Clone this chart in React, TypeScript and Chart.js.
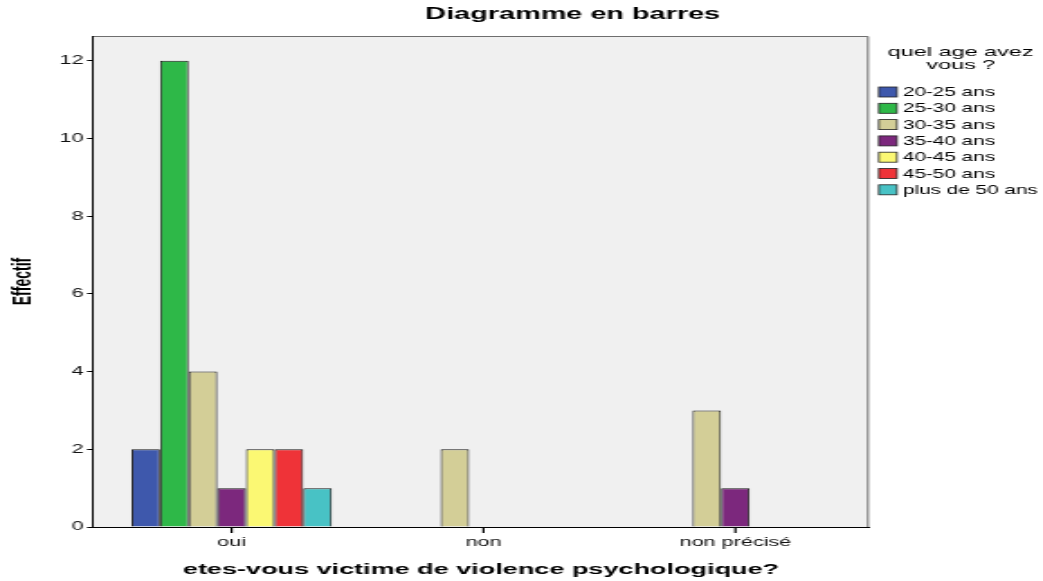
import React, { useEffect, useRef } from "react";
import { Chart, registerables } from "chart.js";

Chart.register(...registerables);

// ---- data ----
const categories = ["oui", "non", "non précisé"];
const ageGroups = ["20-25 ans", "25-30 ans", "30-35 ans", "35-40 ans", "40-45 ans", "45-50 ans", "plus de 50 ans"];
const age2025 = [2, 0, 0];
const age2530 = [12, 0, 0];
const age3035 = [4, 2, 3];
const age3540 = [1, 0, 1];
const age4045 = [2, 0, 0];
const age4550 = [2, 0, 0];
const age50plus = [1, 0, 0];
const yTickValues = [0, 2, 4, 6, 8, 10, 12];

const chartTitle = "Diagramme en barres";
const xTitle = "etes-vous victime de violence psychologique?";
const yTitle = "Effectif";
const legendTitle = ["quel age avez", "vous ?"];

// ---- style ----
const colors = ["#3E58AC", "#2EB848", "#D3CE97", "#7C287D", "#FBF873", "#EF3338", "#48C2C5"];
const W = 1043;
const H = 581;
const S = 1.8; // horizontal stretch of the original picture
const IW = Math.round(W / S);
const FONT = '"Liberation Sans", Arial, Helvetica, sans-serif';

const series = [age2025, age2530, age3035, age3540, age4045, age4550, age50plus];

const overlay = {
  id: "overlay",
  beforeDraw(chart: any) {
    const { ctx, chartArea: a } = chart;
    ctx.save();
    ctx.fillStyle = "#F0F0F0";
    ctx.fillRect(a.left, a.top, a.right - a.left, a.bottom - a.top);
    ctx.strokeStyle = "#6e6e6e";
    ctx.lineWidth = 1;
    ctx.beginPath();
    ctx.moveTo(a.left, a.top + 0.5);
    ctx.lineTo(a.right - 0.5, a.top + 0.5);
    ctx.lineTo(a.right - 0.5, a.bottom);
    ctx.stroke();
    ctx.restore();
  },
  afterDraw(chart: any) {
    const { ctx, chartArea: a } = chart;
    const xs = chart.scales.x;
    ctx.save();
    // category tick marks
    ctx.fillStyle = "#000";
    categories.forEach((_, i) => {
      const px = xs.getPixelForValue(i);
      ctx.fillRect(px - 0.6, a.bottom, 1.2, 6);
    });
    ctx.textBaseline = "middle";
    // chart title
    ctx.font = `bold 16px ${FONT}`;
    ctx.textAlign = "left";
    ctx.fillText(chartTitle, 425 / S, 15);
    // legend title
    ctx.font = `13px ${FONT}`;
    ctx.textAlign = "center";
    const lx = 960 / S;
    legendTitle.forEach((t, i) => ctx.fillText(t, lx, 52 + i * 13));
    // legend items
    ctx.font = `13px ${FONT}`;
    ctx.textAlign = "left";
    const boxX = a.right + 10 / S;
    const boxW = 18 / S;
    const textX = a.right + 34 / S;
    const longest = Math.max(...ageGroups.map((g) => ctx.measureText(g).width));
    const avail = (W - 6) / S - textX;
    const squeeze = avail > 0 ? Math.min(1, avail / longest) : 1;
    ageGroups.forEach((g, i) => {
      const y = 92 + i * 16.3;
      ctx.fillStyle = colors[i];
      ctx.fillRect(boxX, y - 5, boxW, 10);
      ctx.strokeStyle = "#222";
      ctx.lineWidth = 0.8;
      ctx.strokeRect(boxX, y - 5, boxW, 10);
      ctx.fillStyle = "#000";
      ctx.fillText(g, textX, y + 0.5, ctx.measureText(g).width * squeeze);
    });
    ctx.restore();
  },
};

export default function App() {
  const ref = useRef<HTMLCanvasElement | null>(null);
  useEffect(() => {
    if (!ref.current) return;
    Chart.defaults.font.family = FONT;
    const chart = new Chart(ref.current, {
      type: "bar",
      data: {
        datasets: ageGroups.map((g, i) => ({
          label: g,
          data: series[i].map((v, j) => ({ x: j, y: v })),
          backgroundColor: colors[i],
          borderColor: "#1a1a1a",
          borderWidth: 1,
          categoryPercentage: 0.796,
          barPercentage: 1,
        })),
      },
      options: {
        animation: false,
        responsive: false,
        devicePixelRatio: 1,
        layout: { padding: { left: 0, right: (W - 869) / S, top: 36, bottom: 0 } },
        plugins: {
          legend: { display: false },
          title: { display: false },
          tooltip: { enabled: false },
        },
        scales: {
          x: {
            type: "linear",
            min: -0.55,
            max: 2.53,
            offset: false,
            afterBuildTicks: (s: any) => {
              s.ticks = categories.map((_, i) => ({ value: i }));
            },
            afterFit: (s: any) => {
              s.height = 54;
            },
            ticks: {
              callback: (v: any) => (Number.isInteger(v) ? categories[v] ?? "" : ""),
              font: { size: 12, family: FONT },
              color: "#111",
              padding: 3,
              maxRotation: 0,
              autoSkip: false,
            },
            grid: {
              offset: false,
              drawOnChartArea: false,
              drawTicks: true,
              tickLength: 5,
              color: "rgba(0,0,0,0)",
              lineWidth: 1,
            },
            border: { display: true, color: "#000", width: 1 },
            title: {
              display: true,
              text: xTitle,
              font: { size: 15, weight: "bold", family: FONT },
              color: "#000",
              padding: { top: 0, bottom: 2 },
            },
          },
          y: {
            min: 0,
            max: 12.64,
            afterBuildTicks: (s: any) => {
              s.ticks = yTickValues.map((v) => ({ value: v }));
            },
            afterFit: (s: any) => {
              s.width = 93 / S;
            },
            ticks: {
              font: { size: 12, family: FONT },
              color: "#111",
              padding: 2,
            },
            grid: { drawOnChartArea: false, drawTicks: true, tickLength: 6 / S, color: "#000", lineWidth: 1 },
            border: { display: true, color: "#000", width: 1 },
            title: {
              display: true,
              text: yTitle,
              font: { size: 14, weight: "bold", family: FONT },
              color: "#000",
              padding: { top: 4.5, bottom: 0 },
            },
          },
        },
      },
      plugins: [overlay],
    } as any);
    return () => chart.destroy();
  }, []);
  return (
    <canvas
      ref={ref}
      width={IW}
      height={H}
      style={{ position: "absolute", left: 0, top: 0, width: `${W}px`, height: `${H}px`, display: "block" }}
    />
  );
}
